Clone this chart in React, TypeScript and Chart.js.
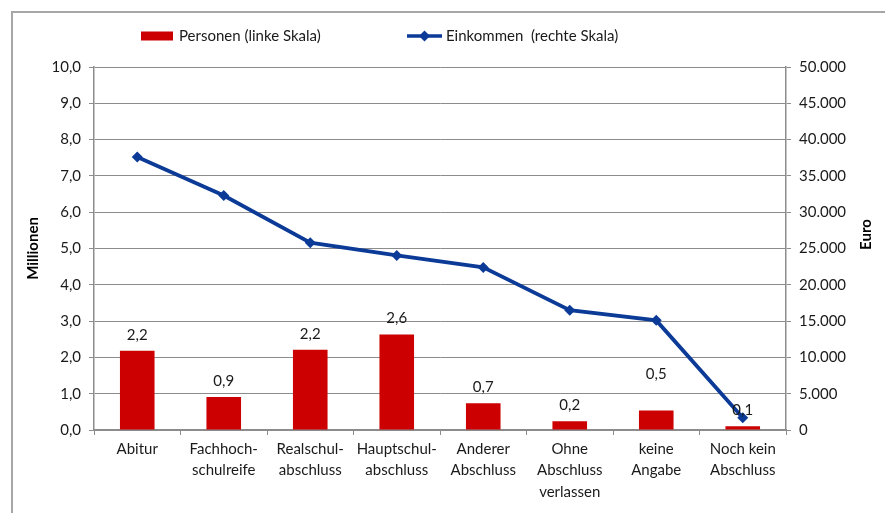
import React, { useEffect, useRef } from "react";
import { Chart, registerables } from "chart.js";

Chart.register(...registerables);

const categories: string[][] = [
  ["Abitur"],
  ["Fachhoch-", "schulreife"],
  ["Realschul-", "abschluss"],
  ["Hauptschul-", "abschluss"],
  ["Anderer", "Abschluss"],
  ["Ohne", "Abschluss", "verlassen"],
  ["keine", "Angabe"],
  ["Noch kein", "Abschluss"],
];
const personen = [2.18, 0.91, 2.21, 2.63, 0.74, 0.24, 0.54, 0.1];
const einkommen = [37600, 32300, 25800, 24050, 22400, 16500, 15100, 1700];
const legendLabels = ["Personen (linke Skala)", "Einkommen  (rechte Skala)"];
const leftTitle = "Millionen";
const rightTitle = "Euro";

const RED = "#cc0000";
const BLUE = "#0b3a97";
const GRID = "#8c8c8c";
const TEXT = "#1a1a1a";
const FONT = "Lato, 'Open Sans', sans-serif";
const FS = 15;

const fmtLeft = (v: number) => v.toFixed(1).replace(".", ",");
const fmtRight = (v: number) =>
  v === 0 ? "0" : String(Math.round(v)).replace(/\B(?=(\d{3})+(?!\d))/g, ".");

const decorPlugin = {
  id: "decor",
  beforeDraw(chart: any) {
    const ctx = chart.ctx;
    ctx.save();
    ctx.strokeStyle = "#a6a6a6";
    ctx.lineWidth = 2;
    ctx.beginPath();
    ctx.moveTo(12, chart.height);
    ctx.lineTo(12, 12);
    ctx.lineTo(chart.width, 12);
    ctx.stroke();
    ctx.restore();
  },
  afterDatasetsDraw(chart: any) {
    const ctx = chart.ctx;
    const meta = chart.getDatasetMeta(1);
    ctx.save();
    ctx.font = `${FS}px ${FONT}`;
    ctx.fillStyle = TEXT;
    ctx.textAlign = "center";
    ctx.textBaseline = "middle";
    meta.data.forEach((el: any, i: number) => {
      // label for "keine Angabe" was moved up in the original to clear the line
      const extra = i === 6 ? 20 : 0;
      ctx.fillText(fmtLeft(personen[i]), el.x, el.y - 16 - extra);
    });
    ctx.restore();
  },
  afterDraw(chart: any) {
    const ctx = chart.ctx;
    const { top, bottom } = chart.chartArea;
    ctx.save();
    ctx.font = `bold ${FS}px ${FONT}`;
    ctx.fillStyle = "#000";
    ctx.textAlign = "center";
    ctx.textBaseline = "middle";
    ctx.save();
    ctx.translate(33, (top + bottom) / 2);
    ctx.rotate(-Math.PI / 2);
    ctx.fillText(leftTitle, 0, 0);
    ctx.restore();
    ctx.save();
    ctx.translate(866, (top + bottom) / 2 - 14);
    ctx.rotate(-Math.PI / 2);
    ctx.fillText(rightTitle, 0, 0);
    ctx.restore();
    // legend
    const ly = 36;
    ctx.fillStyle = RED;
    ctx.fillRect(141, ly - 4.5, 32, 9);
    ctx.font = `${FS}px ${FONT}`;
    ctx.fillStyle = TEXT;
    ctx.textAlign = "left";
    ctx.fillText(legendLabels[0], 179, ly);
    ctx.strokeStyle = BLUE;
    ctx.lineWidth = 3.5;
    ctx.beginPath();
    ctx.moveTo(407, ly);
    ctx.lineTo(442, ly);
    ctx.stroke();
    ctx.fillStyle = BLUE;
    ctx.beginPath();
    ctx.moveTo(424.5, ly - 5.5);
    ctx.lineTo(430, ly);
    ctx.lineTo(424.5, ly + 5.5);
    ctx.lineTo(419, ly);
    ctx.closePath();
    ctx.fill();
    ctx.fillStyle = TEXT;
    ctx.fillText(legendLabels[1], 446, ly);
    ctx.restore();
  },
};

export default function App() {
  const ref = useRef<HTMLCanvasElement | null>(null);
  useEffect(() => {
    document.body.style.margin = "0";
    if (!ref.current) return;
    const chart = new Chart(ref.current, {
      type: "bar",
      data: {
        labels: categories as any,
        datasets: [
          {
            type: "line",
            label: legendLabels[1],
            data: einkommen,
            yAxisID: "y1",
            borderColor: BLUE,
            backgroundColor: BLUE,
            borderWidth: 3.8,
            pointStyle: "rectRot",
            pointRadius: 5.5,
            pointBorderWidth: 0,
            pointBackgroundColor: BLUE,
            tension: 0,
            order: 0,
          } as any,
          {
            type: "bar",
            label: legendLabels[0],
            data: personen,
            yAxisID: "y",
            backgroundColor: RED,
            barPercentage: 0.4,
            categoryPercentage: 1,
            order: 1,
          },
        ],
      },
      options: {
        responsive: true,
        maintainAspectRatio: false,
        animation: false,
        layout: { padding: { top: 67, left: 0, right: 0, bottom: 0 } },
        plugins: {
          legend: { display: false },
          tooltip: { enabled: false },
          title: { display: false },
        },
        scales: {
          x: {
            offset: true,
            grid: {
              offset: true,
              drawOnChartArea: false,
              drawTicks: true,
              tickLength: 5,
              color: GRID,
            },
            border: { color: GRID, width: 1.5 },
            ticks: {
              color: TEXT,
              font: { family: FONT, size: FS, lineHeight: 1.45 },
              padding: 3,
              maxRotation: 0,
              autoSkip: false,
            },
            afterFit(scale: any) {
              scale.height = 83;
            },
          },
          y: {
            position: "left",
            min: 0,
            max: 10,
            ticks: {
              stepSize: 1,
              color: TEXT,
              font: { family: FONT, size: FS },
              padding: 8,
              callback: (v: any) => fmtLeft(Number(v)),
            },
            grid: { color: GRID, tickLength: 5, lineWidth: 1 },
            border: { color: GRID, width: 1.5 },
            afterFit(scale: any) {
              scale.width = 94;
            },
          },
          y1: {
            position: "right",
            min: 0,
            max: 50000,
            ticks: {
              stepSize: 5000,
              color: TEXT,
              font: { family: FONT, size: FS },
              padding: 8,
              callback: (v: any) => fmtRight(Number(v)),
            },
            grid: { drawOnChartArea: false, color: GRID, tickLength: 5 },
            border: { color: GRID, width: 1.5 },
            afterFit(scale: any) {
              scale.width = 99;
            },
          },
        },
      },
      plugins: [decorPlugin],
    });
    return () => chart.destroy();
  }, []);
  return (
    <div style={{ position: "relative", width: 885, height: 513 }}>
      <canvas ref={ref} />
    </div>
  );
}
